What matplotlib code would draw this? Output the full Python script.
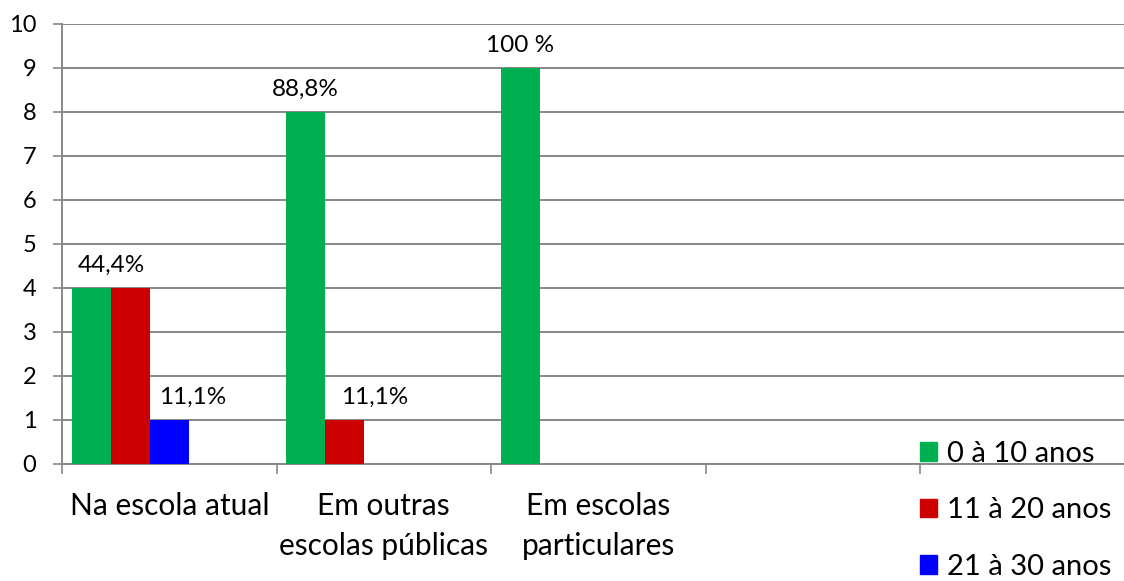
import matplotlib.pyplot as plt
from matplotlib.patches import Rectangle
import numpy as np

plt.rcParams['font.family'] = ['Lato', 'DejaVu Sans']

# Tempo de atuação dos professores, por tipo de escola
categorias = ["Na escola atual", "Em outras\nescolas públicas", "Em escolas\nparticulares", ""]
series = ["0 à 10 anos", "11 à 20 anos", "21 à 30 anos"]
cores = ["#00B050", "#CC0000", "#0000FF"]

anos_0_10 = [4, 8, 9, 0]
anos_11_20 = [4, 1, 0, 0]
anos_21_30 = [1, 0, 0, 0]

rotulos_0_10 = ["44,4%", "88,8%", "100 %", ""]
rotulos_11_20 = ["", "11,1%", "", ""]
rotulos_21_30 = ["11,1%", "", "", ""]

valores = [anos_0_10, anos_11_20, anos_21_30]
rotulos = [rotulos_0_10, rotulos_11_20, rotulos_21_30]
# deslocamento horizontal (px) de cada rótulo, como foram arrastados no gráfico
ajuste = [[20, 0, 0, 0], [0, 30, 0, 0], [23, 0, 0, 0]]

fig = plt.figure(figsize=(11.24, 5.81), dpi=100)
ax = fig.add_axes([62 / 1124, (581 - 464) / 581, (1124 - 62) / 1124, 440 / 581])

x = np.arange(len(categorias))
larg = 0.182  # cinco posições por grupo, só três usadas
for i, (vals, cor) in enumerate(zip(valores, cores)):
    pos = x + (i - 2) * larg
    ax.bar(pos, vals, width=larg, color=cor, zorder=3)
    for xp, v, txt, dx in zip(pos, vals, rotulos[i], ajuste[i]):
        if txt:
            ax.annotate(txt, (xp, v), xytext=(dx * 0.72, 9), textcoords='offset points',
                        ha='center', va='bottom', fontsize=17.5)

ax.set_xlim(-0.5, -0.5 + 1062 / 214.5)
ax.set_ylim(0, 10)
ax.set_yticks(range(0, 11))
ax.tick_params(axis='y', length=6.5, width=1.2, color='#888888', labelsize=17, pad=12)

# marcas entre categorias, rótulos no centro
ax.set_xticks(np.arange(-0.5, 4.0, 1.0))
ax.set_xticklabels([])
ax.set_xticks(x, categorias, minor=True)
ax.tick_params(axis='x', which='major', length=7, width=1.2, color='#888888')
ax.tick_params(axis='x', which='minor', length=0, labelsize=21.5, pad=20)
for lbl in ax.get_xticklabels(minor=True):
    lbl.set_linespacing(1.55)

ax.grid(axis='y', color='#888888', linewidth=1.4, zorder=0)
for s in ['top', 'right']:
    ax.spines[s].set_visible(False)
ax.spines['left'].set_color('#888888')
ax.spines['left'].set_linewidth(1.4)
ax.spines['bottom'].set_color('#888888')
ax.spines['bottom'].set_linewidth(1.4)

alcas = [Rectangle((0, 0), 1, 1, color=c) for c in cores]
fig.legend(alcas, series, loc='upper left', bbox_to_anchor=(908 / 1124, 1 - 429 / 581),
           frameon=False, fontsize=21, handlelength=0.6, handleheight=0.6,
           handletextpad=0.35, labelspacing=1.05, borderaxespad=0)

fig.savefig('out.png', dpi=100)
